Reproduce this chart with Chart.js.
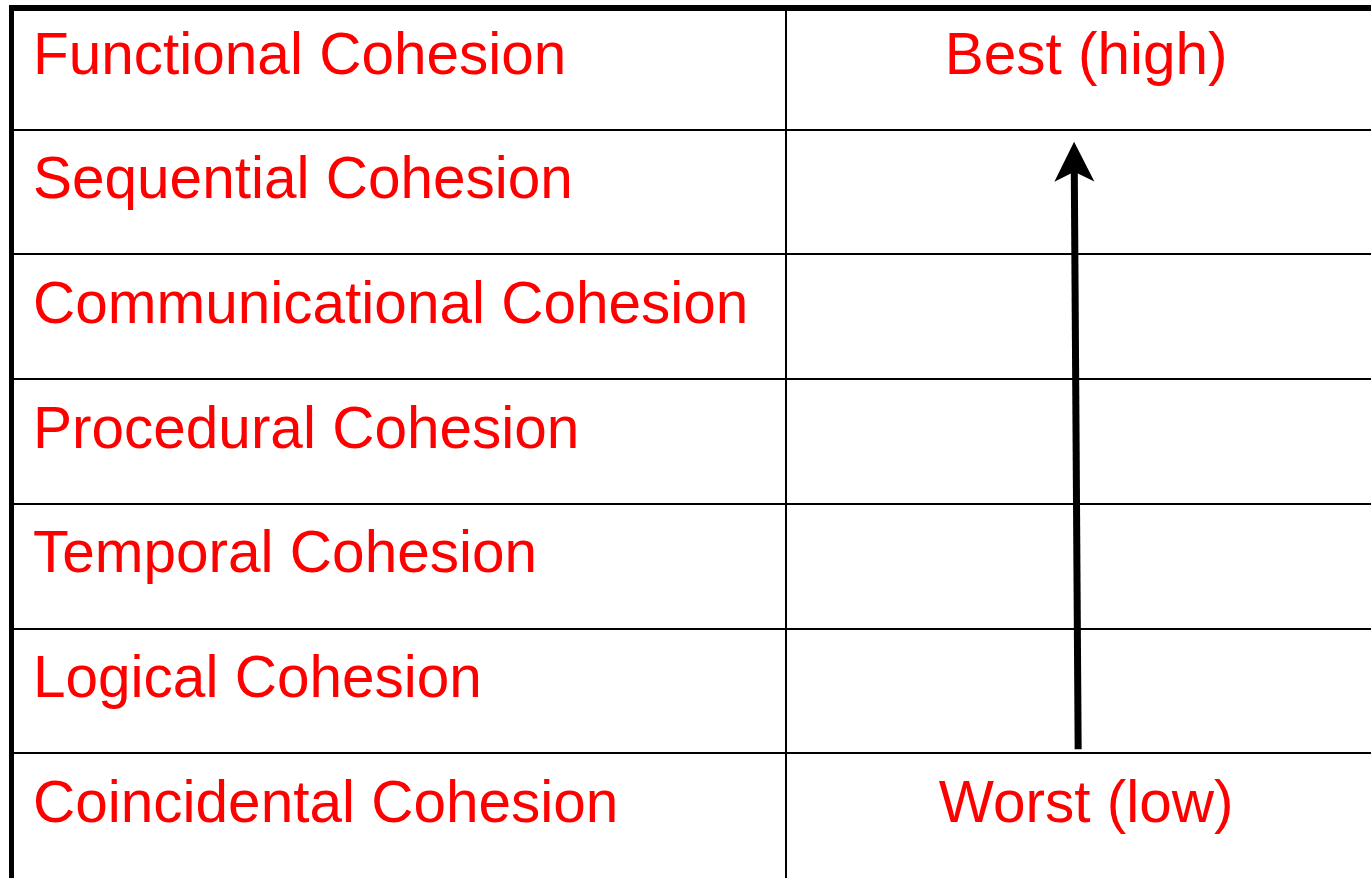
<!DOCTYPE html>
<html>
<head>
<meta charset="utf-8">
<script src="https://cdn.jsdelivr.net/npm/chart.js@4/dist/chart.umd.min.js"></script>
<style>
html,body{margin:0;padding:0;background:#fff;overflow:hidden}
#wrap{width:1371px;height:878px;position:relative}
canvas{display:block}
</style>
</head>
<body>
<div id="wrap"><canvas id="c" width="1371" height="878"></canvas></div>
<script>
// ---- data ----
const levels = [
  'Functional Cohesion',
  'Sequential Cohesion',
  'Communicational Cohesion',
  'Procedural Cohesion',
  'Temporal Cohesion',
  'Logical Cohesion',
  'Coincidental Cohesion'
];
const rankLabels = ['Best (high)', '', '', '', '', '', 'Worst (low)'];
const arrowFrom = 'Coincidental Cohesion';
const arrowTo = 'Functional Cohesion';

// ---- layout / style (not data) ----
const style = {
  red: '#ff0000',
  font: '58.5px "Liberation Sans", Arial, sans-serif',
  colSplit: 0.5705,      // x-scale value of column divider
  rankCenter: 0.7908,    // x-scale value of right column text centre
  arrowBaseX: 0.785,
  arrowTipX: 0.782,
  textInset: 24,
  baselineFrac: 0.55
};

const tablePlugin = {
  id: 'tablePlugin',
  afterDraw(chart) {
    const ctx = chart.ctx;
    const xs = chart.scales.x, ys = chart.scales.y;
    const a = chart.chartArea;
    const rowH = ys.getPixelForValue(1) - ys.getPixelForValue(0);
    ctx.save();
    ctx.fillStyle = '#000';
    // row separators
    for (let i = 1; i < levels.length; i++) {
      const y = Math.round(ys.getPixelForValue(i));
      ctx.fillRect(a.left, y - 1, a.right - a.left, 2);
    }
    // column divider
    const xd = Math.round(xs.getPixelForValue(style.colSplit));
    ctx.fillRect(xd - 1, a.top, 2, a.bottom - a.top);
    // outer borders
    ctx.fillRect(a.left, a.top, a.right - a.left, 6);
    ctx.fillRect(a.left, a.top, 5, a.bottom - a.top);

    // texts
    ctx.font = style.font;
    ctx.fillStyle = style.red;
    ctx.textBaseline = 'alphabetic';
    levels.forEach((name, i) => {
      const y = ys.getPixelForValue(i) + rowH * style.baselineFrac;
      ctx.textAlign = 'left';
      ctx.fillText(name, a.left + style.textInset, y);
      if (rankLabels[i]) {
        ctx.textAlign = 'center';
        ctx.fillText(rankLabels[i], xs.getPixelForValue(style.rankCenter), y);
      }
    });

    // arrow
    const iFrom = levels.indexOf(arrowFrom);
    const iTo = levels.indexOf(arrowTo);
    const bx = xs.getPixelForValue(style.arrowBaseX);
    const by = ys.getPixelForValue(iFrom) - 4;
    const tx = xs.getPixelForValue(style.arrowTipX);
    const ty = ys.getPixelForValue(iTo + 1) + 12;
    const dx = tx - bx, dy = ty - by;
    const len = Math.hypot(dx, dy);
    const ux = dx / len, uy = dy / len;
    const nx = -uy, ny = ux;
    const headLen = 40, headHalf = 20, notch = 30;
    const ncx = tx - ux * notch, ncy = ty - uy * notch;
    ctx.strokeStyle = '#000';
    ctx.lineWidth = 7;
    ctx.lineCap = 'butt';
    ctx.beginPath();
    ctx.moveTo(bx, by);
    ctx.lineTo(ncx + ux * 2, ncy + uy * 2);
    ctx.stroke();
    ctx.fillStyle = '#000';
    const hbx = tx - ux * headLen, hby = ty - uy * headLen;
    ctx.beginPath();
    ctx.moveTo(tx, ty);
    ctx.lineTo(hbx + nx * headHalf, hby + ny * headHalf);
    ctx.lineTo(ncx, ncy);
    ctx.lineTo(hbx - nx * headHalf, hby - ny * headHalf);
    ctx.closePath();
    ctx.fill();
    ctx.restore();
  }
};

new Chart(document.getElementById('c'), {
  type: 'scatter',
  data: {
    datasets: [{
      data: levels.map((_, i) => ({ x: style.colSplit / 2, y: i + 0.5 })),
      pointRadius: 0,
      showLine: false
    }]
  },
  options: {
    responsive: false,
    animation: false,
    events: [],
    layout: { padding: { top: 5, left: 9, right: 0, bottom: 0 } },
    plugins: { legend: { display: false }, tooltip: { enabled: false } },
    scales: {
      x: { type: 'linear', min: 0, max: 1, display: false },
      y: { type: 'linear', min: 0, max: levels.length, reverse: true, display: false }
    }
  },
  plugins: [tablePlugin]
});
</script>
</body>
</html>
